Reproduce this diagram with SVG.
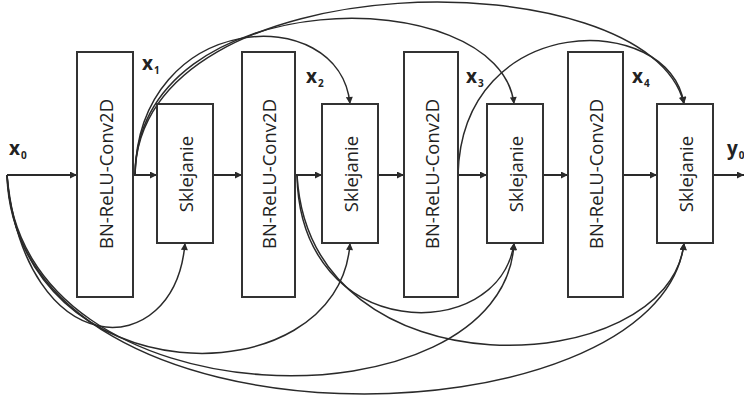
<svg xmlns="http://www.w3.org/2000/svg" width="744" height="401" viewBox="0 0 744 401">
<defs>
<marker id="ah" viewBox="0 0 10 10" refX="10" refY="5" markerWidth="9" markerHeight="7" markerUnits="userSpaceOnUse" orient="auto"><path d="M0,0 L10,5 L0,10 z" fill="#2a2a2a"/></marker>
</defs>
<style>
.box{fill:#fff;stroke:#333;stroke-width:2}
.lbl{font-family:"Open Sans","DejaVu Sans",sans-serif;font-size:18.5px;fill:#222;text-anchor:middle;dominant-baseline:central}
.main{stroke:#2a2a2a;stroke-width:2;fill:none;marker-end:url(#ah)}
.skip{stroke:#2a2a2a;stroke-width:1.5;fill:none;marker-end:url(#ah)}
.var{font-family:"Open Sans","DejaVu Sans",sans-serif;font-weight:bold;font-size:19px;fill:#222}
.sub{font-family:"Open Sans","DejaVu Sans",sans-serif;font-size:10px;fill:#222}
</style>
<rect width="744" height="401" fill="#fff"/>
<g id="connectors">
<path class="main" d="M7,175 L77,175"/>
<path class="main" d="M133,175 L157,175"/>
<path class="main" d="M213,175 L242,175"/>
<path class="main" d="M295,175 L322,175"/>
<path class="main" d="M378,175 L404,175"/>
<path class="main" d="M458,175 L487,175"/>
<path class="main" d="M543,175 L568,175"/>
<path class="main" d="M623,175 L657,175"/>
<path class="main" d="M713,175 L744,175"/>
<path class="skip" d="M135,175 C138,10 340,0 350,104"/>
<path class="skip" d="M135,175 C138,-20 500,-20 514,104"/>
<path class="skip" d="M135,175 C138,-42 650,-42 684,104"/>
<path class="skip" d="M458,175 C462,10 670,10 684,104"/>
<path class="skip" d="M7,175 C25,365 175,365 185,243"/>
<path class="skip" d="M7,175 C20,400 340,400 350,243"/>
<path class="skip" d="M7,175 C20,430 505,430 514,243"/>
<path class="skip" d="M7,175 C15,465 660,445 684,243"/>
<path class="skip" d="M297,175 C300,345 500,345 514,243"/>
<path class="skip" d="M297,175 C310,400 670,380 684,243"/>
</g>
<g id="bn1"><rect class="box" x="77" y="52" width="56" height="245"/><text class="lbl" transform="translate(105,174) rotate(-90)">BN-ReLU-Conv2D</text></g>
<g id="bn2"><rect class="box" x="242" y="52" width="53" height="245"/><text class="lbl" transform="translate(268.5,174) rotate(-90)">BN-ReLU-Conv2D</text></g>
<g id="bn3"><rect class="box" x="404" y="52" width="54" height="245"/><text class="lbl" transform="translate(431,174) rotate(-90)">BN-ReLU-Conv2D</text></g>
<g id="bn4"><rect class="box" x="568" y="52" width="55" height="245"/><text class="lbl" transform="translate(595.5,174) rotate(-90)">BN-ReLU-Conv2D</text></g>
<g id="skl1"><rect class="box" x="157" y="104" width="56" height="139"/><text class="lbl" transform="translate(185,174) rotate(-90)">Sklejanie</text></g>
<g id="skl2"><rect class="box" x="322" y="104" width="56" height="139"/><text class="lbl" transform="translate(350,174) rotate(-90)">Sklejanie</text></g>
<g id="skl3"><rect class="box" x="487" y="104" width="56" height="139"/><text class="lbl" transform="translate(515,174) rotate(-90)">Sklejanie</text></g>
<g id="skl4"><rect class="box" x="657" y="104" width="56" height="139"/><text class="lbl" transform="translate(685,174) rotate(-90)">Sklejanie</text></g>
<g id="labels">
<text class="var" x="9" y="155">x<tspan class="sub" dy="4" dx="1">0</tspan></text>
<text class="var" x="142" y="70">x<tspan class="sub" dy="4" dx="1">1</tspan></text>
<text class="var" x="306" y="83">x<tspan class="sub" dy="4" dx="1">2</tspan></text>
<text class="var" x="466" y="83">x<tspan class="sub" dy="4" dx="1">3</tspan></text>
<text class="var" x="632" y="83">x<tspan class="sub" dy="4" dx="1">4</tspan></text>
<text class="var" x="727" y="155">y<tspan class="sub" dy="4" dx="1">0</tspan></text>
</g>
</svg>
